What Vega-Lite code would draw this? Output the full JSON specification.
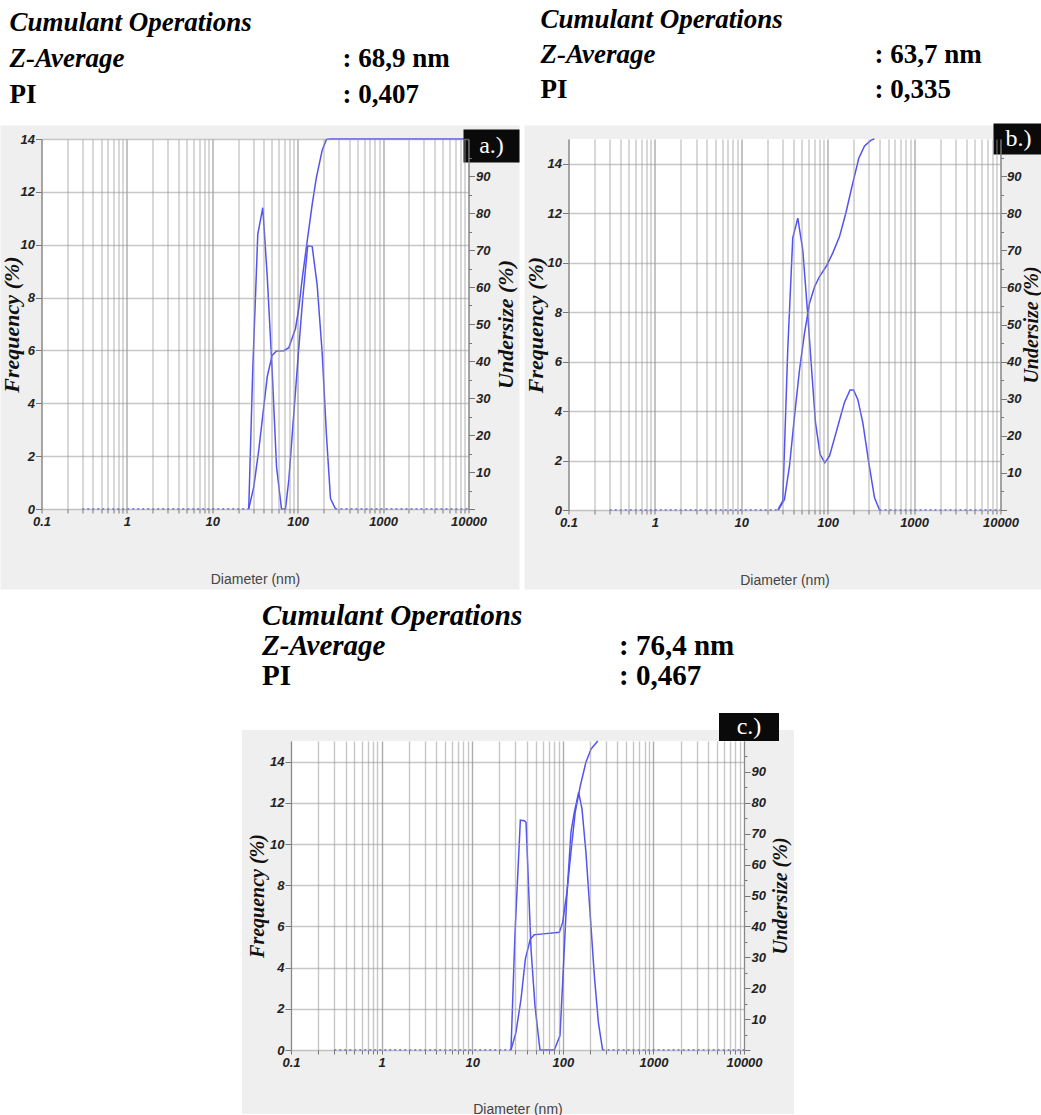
{
  "$schema": "https://vega.github.io/schema/vega-lite/v6.json",
  "padding": {"left": 0, "right": 0, "top": 6, "bottom": 0},
  "background": "white",
  "config": {
    "view": {"stroke": null},
    "axis": {
      "zindex": 1,
      "labelFont": "Liberation Sans", "labelFontStyle": "italic", "labelFontWeight": "bold",
      "labelFontSize": 13, "labelColor": "#222", "labelFlush": false, "labelOverlap": false,
      "tickColor": "#777", "domainColor": "#888",
      "titleFont": "Liberation Serif", "titleFontStyle": "italic", "titleFontWeight": "bold", "titleColor": "#111",
      "gridColor": "#999", "gridOpacity": 0.55, "gridWidth": 1.4
    }
  },
  "datasets": {
    "panels": [
      {"panel": "a", "tag": "a.)"},
      {"panel": "b", "tag": "b.)"},
      {"panel": "c", "tag": "c.)"}
    ],
    "header": [
      {"panel": "a", "line": "title", "label": "Cumulant Operations", "value": ""},
      {"panel": "a", "line": "zavg", "label": "Z-Average", "value": ": 68,9 nm"},
      {"panel": "a", "line": "pi", "label": "PI", "value": ": 0,407"},
      {"panel": "b", "line": "title", "label": "Cumulant Operations", "value": ""},
      {"panel": "b", "line": "zavg", "label": "Z-Average", "value": ": 63,7 nm"},
      {"panel": "b", "line": "pi", "label": "PI", "value": ": 0,335"},
      {"panel": "c", "line": "title", "label": "Cumulant Operations", "value": ""},
      {"panel": "c", "line": "zavg", "label": "Z-Average", "value": ": 76,4 nm"},
      {"panel": "c", "line": "pi", "label": "PI", "value": ": 0,467"}
    ],
    "psd": [
      {"panel": "a", "series": "frequency", "segment": "below", "diameter": 0.3, "value": 0},
      {"panel": "a", "series": "frequency", "segment": "below", "diameter": 26.7, "value": 0},
      {"panel": "a", "series": "frequency", "segment": "peak", "diameter": 26.7, "value": 0},
      {"panel": "a", "series": "frequency", "segment": "peak", "diameter": 29.8, "value": 5.3},
      {"panel": "a", "series": "frequency", "segment": "peak", "diameter": 34.1, "value": 10.4},
      {"panel": "a", "series": "frequency", "segment": "peak", "diameter": 39.0, "value": 11.4},
      {"panel": "a", "series": "frequency", "segment": "peak", "diameter": 43.9, "value": 8.85},
      {"panel": "a", "series": "frequency", "segment": "peak", "diameter": 50.2, "value": 5.26},
      {"panel": "a", "series": "frequency", "segment": "peak", "diameter": 56.5, "value": 1.6},
      {"panel": "a", "series": "frequency", "segment": "peak", "diameter": 64.6, "value": 0},
      {"panel": "a", "series": "frequency", "segment": "peak", "diameter": 71.9, "value": 0},
      {"panel": "a", "series": "frequency", "segment": "peak", "diameter": 78.7, "value": 1.1},
      {"panel": "a", "series": "frequency", "segment": "peak", "diameter": 90, "value": 3.6},
      {"panel": "a", "series": "frequency", "segment": "peak", "diameter": 103, "value": 6.1},
      {"panel": "a", "series": "frequency", "segment": "peak", "diameter": 114.8, "value": 8.0},
      {"panel": "a", "series": "frequency", "segment": "peak", "diameter": 131, "value": 9.97},
      {"panel": "a", "series": "frequency", "segment": "peak", "diameter": 147.8, "value": 9.93},
      {"panel": "a", "series": "frequency", "segment": "peak", "diameter": 169, "value": 8.48},
      {"panel": "a", "series": "frequency", "segment": "peak", "diameter": 193.6, "value": 5.9},
      {"panel": "a", "series": "frequency", "segment": "peak", "diameter": 217, "value": 2.8},
      {"panel": "a", "series": "frequency", "segment": "peak", "diameter": 242, "value": 0.4},
      {"panel": "a", "series": "frequency", "segment": "peak", "diameter": 277, "value": 0},
      {"panel": "a", "series": "frequency", "segment": "above", "diameter": 277, "value": 0},
      {"panel": "a", "series": "frequency", "segment": "above", "diameter": 10000, "value": 0},
      {"panel": "a", "series": "undersize", "segment": "curve", "diameter": 26.7, "value": 0},
      {"panel": "a", "series": "undersize", "segment": "curve", "diameter": 30.6, "value": 6},
      {"panel": "a", "series": "undersize", "segment": "curve", "diameter": 35, "value": 15.9},
      {"panel": "a", "series": "undersize", "segment": "curve", "diameter": 40.1, "value": 27.7},
      {"panel": "a", "series": "undersize", "segment": "curve", "diameter": 44, "value": 35.8},
      {"panel": "a", "series": "undersize", "segment": "curve", "diameter": 50.2, "value": 41.5},
      {"panel": "a", "series": "undersize", "segment": "curve", "diameter": 56.5, "value": 42.7},
      {"panel": "a", "series": "undersize", "segment": "curve", "diameter": 68.8, "value": 42.8},
      {"panel": "a", "series": "undersize", "segment": "curve", "diameter": 78.7, "value": 43.6},
      {"panel": "a", "series": "undersize", "segment": "curve", "diameter": 94.2, "value": 48.8},
      {"panel": "a", "series": "undersize", "segment": "curve", "diameter": 103, "value": 54.2},
      {"panel": "a", "series": "undersize", "segment": "curve", "diameter": 113, "value": 62.3},
      {"panel": "a", "series": "undersize", "segment": "curve", "diameter": 129, "value": 72.3},
      {"panel": "a", "series": "undersize", "segment": "curve", "diameter": 148, "value": 82.4},
      {"panel": "a", "series": "undersize", "segment": "curve", "diameter": 165, "value": 89.4},
      {"panel": "a", "series": "undersize", "segment": "curve", "diameter": 193.6, "value": 97},
      {"panel": "a", "series": "undersize", "segment": "curve", "diameter": 217, "value": 99.9},
      {"panel": "a", "series": "undersize", "segment": "curve", "diameter": 240, "value": 100},
      {"panel": "a", "series": "undersize", "segment": "curve", "diameter": 10000, "value": 100},
      {"panel": "b", "series": "frequency", "segment": "below", "diameter": 0.3, "value": 0},
      {"panel": "b", "series": "frequency", "segment": "below", "diameter": 26.5, "value": 0},
      {"panel": "b", "series": "frequency", "segment": "peak", "diameter": 26.5, "value": 0},
      {"panel": "b", "series": "frequency", "segment": "peak", "diameter": 30.2, "value": 0.37},
      {"panel": "b", "series": "frequency", "segment": "peak", "diameter": 34.5, "value": 6.5},
      {"panel": "b", "series": "frequency", "segment": "peak", "diameter": 39.4, "value": 11.0},
      {"panel": "b", "series": "frequency", "segment": "peak", "diameter": 45.1, "value": 11.8},
      {"panel": "b", "series": "frequency", "segment": "peak", "diameter": 51.5, "value": 10.5},
      {"panel": "b", "series": "frequency", "segment": "peak", "diameter": 58.9, "value": 7.85},
      {"panel": "b", "series": "frequency", "segment": "peak", "diameter": 64.3, "value": 5.96},
      {"panel": "b", "series": "frequency", "segment": "peak", "diameter": 72.2, "value": 3.53},
      {"panel": "b", "series": "frequency", "segment": "peak", "diameter": 81.7, "value": 2.25},
      {"panel": "b", "series": "frequency", "segment": "peak", "diameter": 92.5, "value": 1.91},
      {"panel": "b", "series": "frequency", "segment": "peak", "diameter": 104.9, "value": 2.18},
      {"panel": "b", "series": "frequency", "segment": "peak", "diameter": 125, "value": 3.13},
      {"panel": "b", "series": "frequency", "segment": "peak", "diameter": 156, "value": 4.34},
      {"panel": "b", "series": "frequency", "segment": "peak", "diameter": 181.5, "value": 4.85},
      {"panel": "b", "series": "frequency", "segment": "peak", "diameter": 199, "value": 4.85},
      {"panel": "b", "series": "frequency", "segment": "peak", "diameter": 223, "value": 4.47},
      {"panel": "b", "series": "frequency", "segment": "peak", "diameter": 255, "value": 3.53},
      {"panel": "b", "series": "frequency", "segment": "peak", "diameter": 299, "value": 1.91},
      {"panel": "b", "series": "frequency", "segment": "peak", "diameter": 348, "value": 0.5},
      {"panel": "b", "series": "frequency", "segment": "peak", "diameter": 398, "value": 0},
      {"panel": "b", "series": "frequency", "segment": "above", "diameter": 398, "value": 0},
      {"panel": "b", "series": "frequency", "segment": "above", "diameter": 10000, "value": 0},
      {"panel": "b", "series": "undersize", "segment": "curve", "diameter": 26.8, "value": 0},
      {"panel": "b", "series": "undersize", "segment": "curve", "diameter": 31.6, "value": 2.85},
      {"panel": "b", "series": "undersize", "segment": "curve", "diameter": 36.1, "value": 11.8},
      {"panel": "b", "series": "undersize", "segment": "curve", "diameter": 41.3, "value": 25.3},
      {"panel": "b", "series": "undersize", "segment": "curve", "diameter": 47.2, "value": 37.8},
      {"panel": "b", "series": "undersize", "segment": "curve", "diameter": 53.9, "value": 47.7},
      {"panel": "b", "series": "undersize", "segment": "curve", "diameter": 61.7, "value": 55.8},
      {"panel": "b", "series": "undersize", "segment": "curve", "diameter": 70.8, "value": 60.3},
      {"panel": "b", "series": "undersize", "segment": "curve", "diameter": 80.7, "value": 63},
      {"panel": "b", "series": "undersize", "segment": "curve", "diameter": 96.2, "value": 65.7},
      {"panel": "b", "series": "undersize", "segment": "curve", "diameter": 114.7, "value": 69.3},
      {"panel": "b", "series": "undersize", "segment": "curve", "diameter": 137, "value": 73.7},
      {"panel": "b", "series": "undersize", "segment": "curve", "diameter": 162, "value": 80},
      {"panel": "b", "series": "undersize", "segment": "curve", "diameter": 195, "value": 88.1},
      {"panel": "b", "series": "undersize", "segment": "curve", "diameter": 229, "value": 94.8},
      {"panel": "b", "series": "undersize", "segment": "curve", "diameter": 267, "value": 98.1},
      {"panel": "b", "series": "undersize", "segment": "curve", "diameter": 318, "value": 99.7},
      {"panel": "b", "series": "undersize", "segment": "curve", "diameter": 347, "value": 100},
      {"panel": "c", "series": "frequency", "segment": "below", "diameter": 0.3, "value": 0},
      {"panel": "c", "series": "frequency", "segment": "below", "diameter": 26.8, "value": 0},
      {"panel": "c", "series": "frequency", "segment": "peak", "diameter": 26.8, "value": 0},
      {"panel": "c", "series": "frequency", "segment": "peak", "diameter": 29.7, "value": 5.7},
      {"panel": "c", "series": "frequency", "segment": "peak", "diameter": 34, "value": 11.16},
      {"panel": "c", "series": "frequency", "segment": "peak", "diameter": 37.6, "value": 11.13},
      {"panel": "c", "series": "frequency", "segment": "peak", "diameter": 39.3, "value": 11.05},
      {"panel": "c", "series": "frequency", "segment": "peak", "diameter": 41.7, "value": 8.14},
      {"panel": "c", "series": "frequency", "segment": "peak", "diameter": 44.6, "value": 4.9},
      {"panel": "c", "series": "frequency", "segment": "peak", "diameter": 49.3, "value": 2.15},
      {"panel": "c", "series": "frequency", "segment": "peak", "diameter": 56, "value": 0},
      {"panel": "c", "series": "frequency", "segment": "peak", "diameter": 80.5, "value": 0},
      {"panel": "c", "series": "frequency", "segment": "peak", "diameter": 93.1, "value": 0.7},
      {"panel": "c", "series": "frequency", "segment": "peak", "diameter": 99.7, "value": 3.29},
      {"panel": "c", "series": "frequency", "segment": "peak", "diameter": 110.4, "value": 7.33},
      {"panel": "c", "series": "frequency", "segment": "peak", "diameter": 123, "value": 10.57},
      {"panel": "c", "series": "frequency", "segment": "peak", "diameter": 134, "value": 11.54},
      {"panel": "c", "series": "frequency", "segment": "peak", "diameter": 149.6, "value": 12.5},
      {"panel": "c", "series": "frequency", "segment": "peak", "diameter": 163, "value": 11.7},
      {"panel": "c", "series": "frequency", "segment": "peak", "diameter": 180, "value": 9.6},
      {"panel": "c", "series": "frequency", "segment": "peak", "diameter": 201, "value": 6.52},
      {"panel": "c", "series": "frequency", "segment": "peak", "diameter": 223, "value": 3.6},
      {"panel": "c", "series": "frequency", "segment": "peak", "diameter": 247, "value": 1.34},
      {"panel": "c", "series": "frequency", "segment": "peak", "diameter": 275, "value": 0},
      {"panel": "c", "series": "frequency", "segment": "above", "diameter": 275, "value": 0},
      {"panel": "c", "series": "frequency", "segment": "above", "diameter": 10000, "value": 0},
      {"panel": "c", "series": "undersize", "segment": "curve", "diameter": 26.8, "value": 0},
      {"panel": "c", "series": "undersize", "segment": "curve", "diameter": 30.4, "value": 5.7},
      {"panel": "c", "series": "undersize", "segment": "curve", "diameter": 34.6, "value": 16.5},
      {"panel": "c", "series": "undersize", "segment": "curve", "diameter": 38.6, "value": 29.4},
      {"panel": "c", "series": "undersize", "segment": "curve", "diameter": 43.8, "value": 35.9},
      {"panel": "c", "series": "undersize", "segment": "curve", "diameter": 48.4, "value": 37.3},
      {"panel": "c", "series": "undersize", "segment": "curve", "diameter": 57.4, "value": 37.5},
      {"panel": "c", "series": "undersize", "segment": "curve", "diameter": 91.6, "value": 38.1},
      {"panel": "c", "series": "undersize", "segment": "curve", "diameter": 99.7, "value": 41.3},
      {"panel": "c", "series": "undersize", "segment": "curve", "diameter": 111, "value": 51},
      {"panel": "c", "series": "undersize", "segment": "curve", "diameter": 123, "value": 64},
      {"panel": "c", "series": "undersize", "segment": "curve", "diameter": 137, "value": 76.9},
      {"panel": "c", "series": "undersize", "segment": "curve", "diameter": 156, "value": 85.5},
      {"panel": "c", "series": "undersize", "segment": "curve", "diameter": 180, "value": 93.1},
      {"panel": "c", "series": "undersize", "segment": "curve", "diameter": 205, "value": 97.4},
      {"panel": "c", "series": "undersize", "segment": "curve", "diameter": 243, "value": 100}
    ]
  },
  "spacing": 12,
  "center": true,
  "vconcat": [
    {
      "spacing": 3,
      "hconcat": [
        {
          "width": 427, "height": 370,
          "resolve": {"scale": {"x": "independent", "y": "independent"}},
          "layer": [
            {
              "data": {"name": "panels"},
              "transform": [{"filter": "datum.panel == 'a'"}],
              "layer": [
                {"mark": {"type": "rect", "color": "#efefef"},
                 "encoding": {
                   "x": {"datum": 0.03311, "type": "quantitative", "scale": {"type": "log", "domain": [0.1, 10000], "nice": false}},
                   "x2": {"datum": 39560},
                   "y": {"datum": -3.046, "type": "quantitative", "scale": {"domain": [0, 14], "nice": false, "zero": false}},
                   "y2": {"datum": 14.511}}},
                {"mark": {"type": "rect", "color": "#ffffff"},
                 "encoding": {
                   "x": {"datum": 0.1, "type": "quantitative", "scale": {"type": "log", "domain": [0.1, 10000], "nice": false}},
                   "x2": {"datum": 10000},
                   "y": {"datum": 0, "type": "quantitative", "scale": {"domain": [0, 14], "nice": false, "zero": false}},
                   "y2": {"datum": 14}}},
                {"data": {"name": "psd"},
                 "transform": [{"filter": "datum.panel == 'a' && datum.series == 'frequency'"}],
                 "mark": {"type": "line", "color": "#5353f0", "strokeWidth": 1.5},
                 "encoding": {
                   "x": {"field": "diameter", "type": "quantitative", "scale": {"type": "log", "domain": [0.1, 10000], "nice": false},
                     "axis": {"zindex": 1, "values": [0.1,0.2,0.3,0.4,0.5,0.6,0.7,0.8,0.9,1,2,3,4,5,6,7,8,9,10,20,30,40,50,60,70,80,90,100,200,300,400,500,600,700,800,900,1000,2000,3000,4000,5000,6000,7000,8000,9000,10000],
                       "labelExpr": "indexof([0.1,1,10,100,1000,10000], datum.value) >= 0 ? format(datum.value, '~g') : ''",
                       "grid": true, "gridColor": {"condition": {"test": "indexof([0.1,1,10,100,1000,10000], datum.value) >= 0", "value": "#666"}, "value": "#999"},
                       "tickSize": 4, "domain": false,
                       "title": "Diameter (nm)", "titleFont": "Liberation Sans", "titleFontStyle": "normal", "titleFontWeight": "normal", "titleFontSize": 14, "titleColor": "#444", "titlePadding": 44}},
                   "y": {"field": "value", "type": "quantitative", "scale": {"domain": [0, 14], "nice": false, "zero": false},
                     "axis": {"zindex": 1, "values": [0,1,2,3,4,5,6,7,8,9,10,11,12,13,14],
                       "labelExpr": "datum.value % 2 == 0 ? datum.label : ''", "labelPadding": 1,
                       "grid": true, "tickSize": {"condition": {"test": "datum.value % 2 == 0", "value": 6}, "value": 3},
                       "title": "Frequency (%)", "titleFontSize": 22, "titlePadding": -3}},
                   "strokeDash": {"field": "segment", "type": "nominal", "scale": {"domain": ["below", "peak", "above"], "range": [[2, 3], [1, 0], [2, 3]]}, "legend": null}}}
              ]
            },
            {
              "data": {"name": "psd"},
              "transform": [{"filter": "datum.panel == 'a' && datum.series == 'undersize'"}],
              "mark": {"type": "line", "color": "#5353f0", "strokeWidth": 1.5},
              "encoding": {
                "x": {"field": "diameter", "type": "quantitative", "scale": {"type": "log", "domain": [0.1, 10000], "nice": false}, "axis": null},
                "y": {"field": "value", "type": "quantitative", "scale": {"domain": [0, 100], "nice": false},
                  "axis": {"zindex": 1, "orient": "right", "values": [0,5,10,15,20,25,30,35,40,45,50,55,60,65,70,75,80,85,90,95],
                    "labelExpr": "datum.value % 10 == 0 && datum.value > 0 && datum.value < 100 ? datum.label : ''",
                    "grid": false, "labelPadding": 1,
                    "tickSize": {"condition": {"test": "datum.value % 10 == 0", "value": 6}, "value": 3},
                    "title": "Undersize (%)", "titleFontSize": 22, "titleAngle": 270, "titleBaseline": "top", "titlePadding": 6}}}
            },
            {
              "data": {"name": "panels"},
              "transform": [{"filter": "datum.panel == 'a'"}],
              "layer": [
                {"mark": {"type": "rect", "color": "#0a0a0a"},
                 "encoding": {
                   "x": {"datum": 8740, "type": "quantitative", "scale": {"type": "log", "domain": [0.1, 10000], "nice": false}, "axis": null},
                   "x2": {"datum": 39560},
                   "y": {"datum": 13.11, "type": "quantitative", "scale": {"domain": [0, 14], "nice": false, "zero": false}, "axis": null},
                   "y2": {"datum": 14.36}}},
                {"mark": {"type": "text", "color": "#ffffff", "font": "Liberation Serif", "fontSize": 24, "align": "center", "baseline": "middle"},
                 "encoding": {
                   "x": {"datum": 18590, "type": "quantitative", "scale": {"type": "log", "domain": [0.1, 10000], "nice": false}, "axis": null},
                   "y": {"datum": 13.735, "type": "quantitative", "scale": {"domain": [0, 14], "nice": false, "zero": false}, "axis": null},
                   "text": {"field": "tag"}}}
              ]
            },
            {
              "data": {"name": "header"},
              "transform": [{"filter": "datum.panel == 'a'"}],
              "encoding": {"y": {"field": "line", "type": "ordinal", "scale": {"type": "point", "domain": ["title", "zavg", "pi"], "range": [-108, -36], "padding": 0}, "axis": null}},
              "layer": [
                {"transform": [{"filter": "datum.line != 'pi'"}],
                 "mark": {"type": "text", "align": "left", "baseline": "alphabetic", "font": "Liberation Serif", "fontSize": 27, "fontWeight": "bold", "fontStyle": "italic", "color": "#000"},
                 "encoding": {"x": {"datum": "label", "type": "nominal", "scale": {"type": "point", "domain": ["label", "value"], "range": [-32, 301], "padding": 0}, "axis": null}, "text": {"field": "label"}}},
                {"transform": [{"filter": "datum.line == 'pi'"}],
                 "mark": {"type": "text", "align": "left", "baseline": "alphabetic", "font": "Liberation Serif", "fontSize": 27, "fontWeight": "bold", "color": "#000"},
                 "encoding": {"x": {"datum": "label", "type": "nominal", "scale": {"type": "point", "domain": ["label", "value"], "range": [-32, 301], "padding": 0}, "axis": null}, "text": {"field": "label"}}},
                {"transform": [{"filter": "datum.line != 'title'"}],
                 "mark": {"type": "text", "align": "left", "baseline": "alphabetic", "font": "Liberation Serif", "fontSize": 27, "fontWeight": "bold", "color": "#000"},
                 "encoding": {"x": {"datum": "value", "type": "nominal", "scale": {"type": "point", "domain": ["label", "value"], "range": [-32, 301], "padding": 0}, "axis": null}, "text": {"field": "value"}}}
              ]
            }
          ]
        },
        {
          "width": 432, "height": 371,
          "resolve": {"scale": {"x": "independent", "y": "independent"}},
          "layer": [
            {
              "data": {"name": "panels"},
              "transform": [{"filter": "datum.panel == 'b'"}],
              "layer": [
                {"mark": {"type": "rect", "color": "#efefef"},
                 "encoding": {
                   "x": {"datum": 0.03095, "type": "quantitative", "scale": {"type": "log", "domain": [0.1, 10000], "nice": false}},
                   "x2": {"datum": 31460},
                   "y": {"datum": -3.215, "type": "quantitative", "scale": {"domain": [0, 15], "nice": false, "zero": false}},
                   "y2": {"datum": 15.546}}},
                {"mark": {"type": "rect", "color": "#ffffff"},
                 "encoding": {
                   "x": {"datum": 0.1, "type": "quantitative", "scale": {"type": "log", "domain": [0.1, 10000], "nice": false}},
                   "x2": {"datum": 10000},
                   "y": {"datum": 0, "type": "quantitative", "scale": {"domain": [0, 15], "nice": false, "zero": false}},
                   "y2": {"datum": 15}}},
                {"data": {"name": "psd"},
                 "transform": [{"filter": "datum.panel == 'b' && datum.series == 'frequency'"}],
                 "mark": {"type": "line", "color": "#5353f0", "strokeWidth": 1.5},
                 "encoding": {
                   "x": {"field": "diameter", "type": "quantitative", "scale": {"type": "log", "domain": [0.1, 10000], "nice": false},
                     "axis": {"zindex": 1, "values": [0.1,0.2,0.3,0.4,0.5,0.6,0.7,0.8,0.9,1,2,3,4,5,6,7,8,9,10,20,30,40,50,60,70,80,90,100,200,300,400,500,600,700,800,900,1000,2000,3000,4000,5000,6000,7000,8000,9000,10000],
                       "labelExpr": "indexof([0.1,1,10,100,1000,10000], datum.value) >= 0 ? format(datum.value, '~g') : ''",
                       "grid": true, "gridColor": {"condition": {"test": "indexof([0.1,1,10,100,1000,10000], datum.value) >= 0", "value": "#666"}, "value": "#999"},
                       "tickSize": 4, "domain": false,
                       "title": "Diameter (nm)", "titleFont": "Liberation Sans", "titleFontStyle": "normal", "titleFontWeight": "normal", "titleFontSize": 14, "titleColor": "#444", "titlePadding": 44}},
                   "y": {"field": "value", "type": "quantitative", "scale": {"domain": [0, 15], "nice": false, "zero": false},
                     "axis": {"zindex": 1, "values": [0,1,2,3,4,5,6,7,8,9,10,11,12,13,14,15],
                       "labelExpr": "datum.value % 2 == 0 ? datum.label : ''", "labelPadding": 1,
                       "grid": true, "tickSize": {"condition": {"test": "datum.value % 2 == 0", "value": 6}, "value": 3},
                       "title": "Frequency (%)", "titleFontSize": 22, "titlePadding": 0}},
                   "strokeDash": {"field": "segment", "type": "nominal", "scale": {"domain": ["below", "peak", "above"], "range": [[2, 3], [1, 0], [2, 3]]}, "legend": null}}}
              ]
            },
            {
              "data": {"name": "psd"},
              "transform": [{"filter": "datum.panel == 'b' && datum.series == 'undersize'"}],
              "mark": {"type": "line", "color": "#5353f0", "strokeWidth": 1.5},
              "encoding": {
                "x": {"field": "diameter", "type": "quantitative", "scale": {"type": "log", "domain": [0.1, 10000], "nice": false}, "axis": null},
                "y": {"field": "value", "type": "quantitative", "scale": {"domain": [0, 100], "nice": false},
                  "axis": {"zindex": 1, "orient": "right", "values": [0,5,10,15,20,25,30,35,40,45,50,55,60,65,70,75,80,85,90,95],
                    "labelExpr": "datum.value % 10 == 0 && datum.value > 0 && datum.value < 100 ? datum.label : ''",
                    "grid": false, "labelPadding": 0,
                    "tickSize": {"condition": {"test": "datum.value % 10 == 0", "value": 6}, "value": 3},
                    "title": "Undersize (%)", "titleFontSize": 20, "titleAngle": 270, "titleBaseline": "top", "titlePadding": 1}}}
            },
            {
              "data": {"name": "panels"},
              "transform": [{"filter": "datum.panel == 'b'"}],
              "layer": [
                {"mark": {"type": "rect", "color": "#0a0a0a"},
                 "encoding": {
                   "x": {"datum": 8298, "type": "quantitative", "scale": {"type": "log", "domain": [0.1, 10000], "nice": false}, "axis": null},
                   "x2": {"datum": 31460},
                   "y": {"datum": 14.373, "type": "quantitative", "scale": {"domain": [0, 15], "nice": false, "zero": false}, "axis": null},
                   "y2": {"datum": 15.627}}},
                {"mark": {"type": "text", "color": "#ffffff", "font": "Liberation Serif", "fontSize": 24, "align": "center", "baseline": "middle"},
                 "encoding": {
                   "x": {"datum": 16150, "type": "quantitative", "scale": {"type": "log", "domain": [0.1, 10000], "nice": false}, "axis": null},
                   "y": {"datum": 15.0, "type": "quantitative", "scale": {"domain": [0, 15], "nice": false, "zero": false}, "axis": null},
                   "text": {"field": "tag"}}}
              ]
            },
            {
              "data": {"name": "header"},
              "transform": [{"filter": "datum.panel == 'b'"}],
              "encoding": {"y": {"field": "line", "type": "ordinal", "scale": {"type": "point", "domain": ["title", "zavg", "pi"], "range": [-111, -41], "padding": 0}, "axis": null}},
              "layer": [
                {"transform": [{"filter": "datum.line != 'pi'"}],
                 "mark": {"type": "text", "align": "left", "baseline": "alphabetic", "font": "Liberation Serif", "fontSize": 27, "fontWeight": "bold", "fontStyle": "italic", "color": "#000"},
                 "encoding": {"x": {"datum": "label", "type": "nominal", "scale": {"type": "point", "domain": ["label", "value"], "range": [-28, 306], "padding": 0}, "axis": null}, "text": {"field": "label"}}},
                {"transform": [{"filter": "datum.line == 'pi'"}],
                 "mark": {"type": "text", "align": "left", "baseline": "alphabetic", "font": "Liberation Serif", "fontSize": 27, "fontWeight": "bold", "color": "#000"},
                 "encoding": {"x": {"datum": "label", "type": "nominal", "scale": {"type": "point", "domain": ["label", "value"], "range": [-28, 306], "padding": 0}, "axis": null}, "text": {"field": "label"}}},
                {"transform": [{"filter": "datum.line != 'title'"}],
                 "mark": {"type": "text", "align": "left", "baseline": "alphabetic", "font": "Liberation Serif", "fontSize": 27, "fontWeight": "bold", "color": "#000"},
                 "encoding": {"x": {"datum": "value", "type": "nominal", "scale": {"type": "point", "domain": ["label", "value"], "range": [-28, 306], "padding": 0}, "axis": null}, "text": {"field": "value"}}}
              ]
            }
          ]
        }
      ]
    },
    {
      "width": 453, "height": 309,
      "resolve": {"scale": {"x": "independent", "y": "independent"}},
      "layer": [
        {
          "data": {"name": "panels"},
          "transform": [{"filter": "datum.panel == 'c'"}],
          "layer": [
            {"mark": {"type": "rect", "color": "#efefef"},
             "encoding": {
               "x": {"datum": 0.02878, "type": "quantitative", "scale": {"type": "log", "domain": [0.1, 10000], "nice": false}},
               "x2": {"datum": 35640},
               "y": {"datum": -3.11, "type": "quantitative", "scale": {"domain": [0, 15], "nice": false, "zero": false}},
               "y2": {"datum": 15.53}}},
            {"mark": {"type": "rect", "color": "#ffffff"},
             "encoding": {
               "x": {"datum": 0.1, "type": "quantitative", "scale": {"type": "log", "domain": [0.1, 10000], "nice": false}},
               "x2": {"datum": 10000},
               "y": {"datum": 0, "type": "quantitative", "scale": {"domain": [0, 15], "nice": false, "zero": false}},
               "y2": {"datum": 15}}},
            {"data": {"name": "psd"},
             "transform": [{"filter": "datum.panel == 'c' && datum.series == 'frequency'"}],
             "mark": {"type": "line", "color": "#5353f0", "strokeWidth": 1.5},
             "encoding": {
               "x": {"field": "diameter", "type": "quantitative", "scale": {"type": "log", "domain": [0.1, 10000], "nice": false},
                 "axis": {"zindex": 1, "values": [0.1,0.2,0.3,0.4,0.5,0.6,0.7,0.8,0.9,1,2,3,4,5,6,7,8,9,10,20,30,40,50,60,70,80,90,100,200,300,400,500,600,700,800,900,1000,2000,3000,4000,5000,6000,7000,8000,9000,10000],
                   "labelExpr": "indexof([0.1,1,10,100,1000,10000], datum.value) >= 0 ? format(datum.value, '~g') : ''",
                   "grid": true, "gridColor": {"condition": {"test": "indexof([0.1,1,10,100,1000,10000], datum.value) >= 0", "value": "#666"}, "value": "#999"},
                   "tickSize": 4, "domain": false,
                   "title": "Diameter (nm)", "titleFont": "Liberation Sans", "titleFontStyle": "normal", "titleFontWeight": "normal", "titleFontSize": 14, "titleColor": "#444", "titlePadding": 33}},
               "y": {"field": "value", "type": "quantitative", "scale": {"domain": [0, 15], "nice": false, "zero": false},
                 "axis": {"zindex": 1, "values": [0,1,2,3,4,5,6,7,8,9,10,11,12,13,14,15],
                   "labelExpr": "datum.value % 2 == 0 ? datum.label : ''", "labelPadding": 1,
                   "grid": true, "tickSize": {"condition": {"test": "datum.value % 2 == 0", "value": 6}, "value": 3},
                   "title": "Frequency (%)", "titleFontSize": 20, "titlePadding": 2}},
               "strokeDash": {"field": "segment", "type": "nominal", "scale": {"domain": ["below", "peak", "above"], "range": [[2, 3], [1, 0], [2, 3]]}, "legend": null}}}
          ]
        },
        {
          "data": {"name": "psd"},
          "transform": [{"filter": "datum.panel == 'c' && datum.series == 'undersize'"}],
          "mark": {"type": "line", "color": "#5353f0", "strokeWidth": 1.5},
          "encoding": {
            "x": {"field": "diameter", "type": "quantitative", "scale": {"type": "log", "domain": [0.1, 10000], "nice": false}, "axis": null},
            "y": {"field": "value", "type": "quantitative", "scale": {"domain": [0, 100], "nice": false},
              "axis": {"zindex": 1, "orient": "right", "values": [0,5,10,15,20,25,30,35,40,45,50,55,60,65,70,75,80,85,90,95],
                "labelExpr": "datum.value % 10 == 0 && datum.value > 0 && datum.value < 100 ? datum.label : ''",
                "grid": false, "labelPadding": 1,
                "tickSize": {"condition": {"test": "datum.value % 10 == 0", "value": 6}, "value": 3},
                "title": "Undersize (%)", "titleFontSize": 20, "titleAngle": 270, "titleBaseline": "top", "titlePadding": 5}}}
        },
        {
          "data": {"name": "panels"},
          "transform": [{"filter": "datum.panel == 'c'"}],
          "layer": [
            {"mark": {"type": "rect", "color": "#0a0a0a"},
             "encoding": {
               "x": {"datum": 5298, "type": "quantitative", "scale": {"type": "log", "domain": [0.1, 10000], "nice": false}, "axis": null},
               "x2": {"datum": 24340},
               "y": {"datum": 15.0, "type": "quantitative", "scale": {"domain": [0, 15], "nice": false, "zero": false}, "axis": null},
               "y2": {"datum": 16.36}}},
            {"mark": {"type": "text", "color": "#ffffff", "font": "Liberation Serif", "fontSize": 24, "align": "center", "baseline": "middle"},
             "encoding": {
               "x": {"datum": 11355, "type": "quantitative", "scale": {"type": "log", "domain": [0.1, 10000], "nice": false}, "axis": null},
               "y": {"datum": 15.68, "type": "quantitative", "scale": {"domain": [0, 15], "nice": false, "zero": false}, "axis": null},
               "text": {"field": "tag"}}}
          ]
        },
        {
          "data": {"name": "header"},
          "transform": [{"filter": "datum.panel == 'c'"}],
          "encoding": {"y": {"field": "line", "type": "ordinal", "scale": {"type": "point", "domain": ["title", "zavg", "pi"], "range": [-116, -56], "padding": 0}, "axis": null}},
          "layer": [
            {"transform": [{"filter": "datum.line != 'pi'"}],
             "mark": {"type": "text", "align": "left", "baseline": "alphabetic", "font": "Liberation Serif", "fontSize": 29, "fontWeight": "bold", "fontStyle": "italic", "color": "#000"},
             "encoding": {"x": {"datum": "label", "type": "nominal", "scale": {"type": "point", "domain": ["label", "value"], "range": [-29, 328], "padding": 0}, "axis": null}, "text": {"field": "label"}}},
            {"transform": [{"filter": "datum.line == 'pi'"}],
             "mark": {"type": "text", "align": "left", "baseline": "alphabetic", "font": "Liberation Serif", "fontSize": 29, "fontWeight": "bold", "color": "#000"},
             "encoding": {"x": {"datum": "label", "type": "nominal", "scale": {"type": "point", "domain": ["label", "value"], "range": [-29, 328], "padding": 0}, "axis": null}, "text": {"field": "label"}}},
            {"transform": [{"filter": "datum.line != 'title'"}],
             "mark": {"type": "text", "align": "left", "baseline": "alphabetic", "font": "Liberation Serif", "fontSize": 29, "fontWeight": "bold", "color": "#000"},
             "encoding": {"x": {"datum": "value", "type": "nominal", "scale": {"type": "point", "domain": ["label", "value"], "range": [-29, 328], "padding": 0}, "axis": null}, "text": {"field": "value"}}}
          ]
        }
      ]
    }
  ]
}
